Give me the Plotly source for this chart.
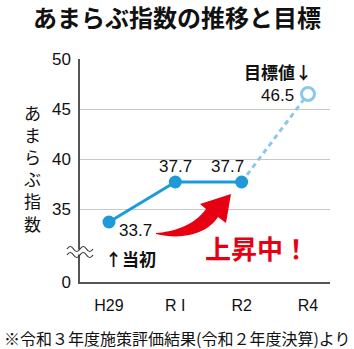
import plotly.graph_objects as go

# ---- data ----
years = ["H29", "R I", "R2", "R4"]
actual_values = [33.7, 37.7, 37.7]          # H29, R1, R2
target_value = 46.5                          # R4 target
y_tick_vals = [27.7, 35, 40, 45, 50]
y_tick_text = ["0", "35", "40", "45", "50"]

# ---- layout geometry (pixels) ----
W, H = 354, 349
L, R, T, B = 80, 330, 59, 282

def px(x):
    return (x - L) / (R - L)

def py(y):
    return (B - y) / (B - T)

BLUE = "#1e9bd7"
LIGHT = "#8cc8ee"
RED = "#e60012"
JP = "Noto Sans CJK JP"
NUM = "Liberation Sans"

x_act = list(range(len(actual_values)))
x_tgt = len(years) - 1

fig = go.Figure()
# dashed target segment
fig.add_trace(go.Scatter(
    x=[x_act[-1], x_tgt], y=[actual_values[-1], target_value],
    mode="lines", line=dict(color=LIGHT, width=3, dash="5px,4px"),
    hoverinfo="skip", showlegend=False))
# actual line
fig.add_trace(go.Scatter(
    x=x_act, y=actual_values, mode="lines+markers",
    line=dict(color=BLUE, width=3),
    marker=dict(size=13, color=BLUE),
    showlegend=False))
# target marker
fig.add_trace(go.Scatter(
    x=[x_tgt], y=[target_value], mode="markers",
    marker=dict(size=13, color="white", line=dict(color=LIGHT, width=3)),
    showlegend=False))

ann = []
# data labels
offsets = [(27, -8), (0, 16), (-14, 16)]
for xi, v, (dx, dy) in zip(x_act, actual_values, offsets):
    ann.append(dict(x=xi, y=v, xref="x", yref="y", text=f"{v:.1f}",
                    showarrow=False, xshift=dx, yshift=dy, borderpad=0,
                    font=dict(family=NUM, size=17, color="#111")))
ann.append(dict(x=x_tgt, y=target_value, xref="x", yref="y",
                text=f"{target_value:.1f}", showarrow=False,
                xshift=-30, yshift=-1, borderpad=0,
                font=dict(family=NUM, size=17, color="#111")))

# title
ann.append(dict(x=px(177), y=py(17), xref="paper", yref="paper",
                text="<b>あまらぶ指数の推移と目標</b>", showarrow=False,
                xanchor="center", yanchor="middle",
                font=dict(family=JP, size=24, color="#111")))
# footer
ann.append(dict(x=px(177), y=py(338), xref="paper", yref="paper",
                text="※令和３年度施策評価結果(令和２年度決算)より",
                showarrow=False, xanchor="center", yanchor="middle",
                font=dict(family=JP, size=16, color="#111")))
# vertical y-axis title (one character per line)
ann.append(dict(x=px(32), y=py(168), xref="paper", yref="paper",
                text="<br>".join("あまらぶ指数"), showarrow=False,
                xanchor="center", yanchor="middle", align="center",
                font=dict(family=JP, size=17, color="#111")))
# notes
ann.append(dict(x=px(130), y=py(258), xref="paper", yref="paper",
                text="<b>↑当初</b>", showarrow=False, borderpad=0,
                xanchor="center", yanchor="middle",
                font=dict(family=JP, size=17, color="#111")))
ann.append(dict(x=px(278), y=py(71), xref="paper", yref="paper",
                text="<b>目標値↓</b>", showarrow=False, borderpad=0,
                xanchor="center", yanchor="middle",
                font=dict(family=JP, size=17, color="#111")))
ann.append(dict(x=px(203), y=py(247), xref="paper", yref="paper",
                text="<b>上昇中！</b>", showarrow=False,
                xanchor="left", yanchor="middle",
                font=dict(family=JP, size=26, color=RED)))

def P(x, y):
    return f"{px(x):.5f},{py(y):.5f}"

shapes = []
# red swoosh arrow
arrow = (f"M {P(156,233)} C {P(172,232)} {P(194,226)} {P(206,209)} "
         f"L {P(200,204)} L {P(231,194)} L {P(226,223)} L {P(218,217)} "
         f"C {P(209,232)} {P(184,241)} {P(156,234)} Z")
shapes.append(dict(type="path", xref="paper", yref="paper", path=arrow,
                   fillcolor=RED, line=dict(width=0), layer="above"))
# axis break
shapes.append(dict(type="rect", xref="paper", yref="paper",
                   x0=px(77), x1=px(83), y0=py(249.5), y1=py(254.5),
                   fillcolor="white", line=dict(width=0), layer="above"))
for yy in (249, 255):
    wave = (f"M {P(67,yy)} Q {P(70.25,yy-5)} {P(73.5,yy)} "
            f"T {P(80,yy)} T {P(86.5,yy)} T {P(93,yy)}")
    shapes.append(dict(type="path", xref="paper", yref="paper", path=wave,
                       line=dict(color="#333", width=1.2), layer="above"))

fig.update_layout(
    width=W, height=H,
    margin=dict(l=L, r=W - R, t=T, b=H - B, pad=0),
    paper_bgcolor="white", plot_bgcolor="white",
    annotations=ann, shapes=shapes,
    xaxis=dict(range=[-0.437, 3.332], tickvals=list(range(len(years))),
               ticktext=years, showgrid=False, zeroline=False,
               showline=True, linecolor="#555", linewidth=1.5,
               ticks="", ticklabelstandoff=8,
               tickfont=dict(family=NUM, size=16, color="#111")),
    yaxis=dict(range=[27.7, 50], tickvals=y_tick_vals, ticktext=y_tick_text,
               showgrid=True, gridcolor="#c8c8c8", gridwidth=1,
               zeroline=False, showline=True, linecolor="#555", linewidth=1.5,
               ticks="", ticklabelstandoff=4,
               tickfont=dict(family=NUM, size=17, color="#111")),
)

fig.write_html("out.html")
